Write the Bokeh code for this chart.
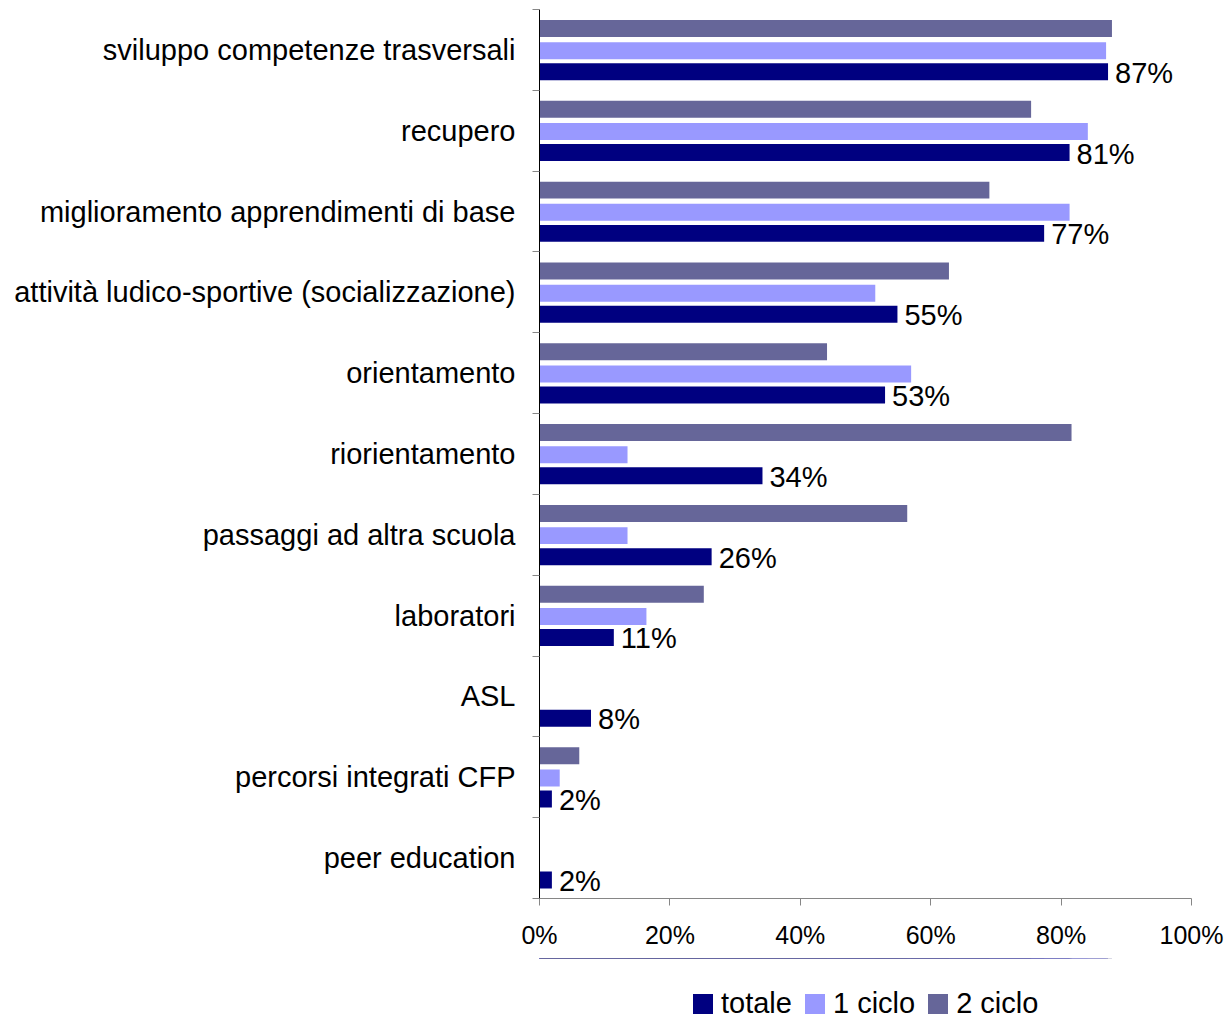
from bokeh.plotting import figure
from bokeh.layouts import column
from bokeh.models import (Range1d, LinearAxis, FixedTicker, CustomJSTickFormatter,
                          PrintfTickFormatter, ColumnDataSource, Legend, LegendItem)
from bokeh.transform import dodge
from bokeh.embed import file_html
from bokeh.resources import INLINE
from bokeh.core.properties import value

categories = [
    "sviluppo competenze trasversali",
    "recupero",
    "miglioramento apprendimenti di base",
    "attività ludico-sportive (socializzazione)",
    "orientamento",
    "riorientamento",
    "passaggi ad altra scuola",
    "laboratori",
    "ASL",
    "percorsi integrati CFP",
    "peer education",
]
totale = [87.2, 81.3, 77.4, 54.9, 53.0, 34.2, 26.4, 11.4, 7.9, 1.9, 1.9]
ciclo1 = [86.9, 84.1, 81.3, 51.5, 57.0, 13.5, 13.5, 16.4, 0.0, 3.1, 0.0]
ciclo2 = [87.8, 75.4, 69.0, 62.8, 44.1, 81.6, 56.4, 25.2, 0.0, 6.1, 0.0]
series_names = ["totale", "1 ciclo", "2 ciclo"]
x_ticks = [0, 20, 40, 60, 80, 100]

FONT = "Liberation Sans"
colors = {"totale": "#000080", "1 ciclo": "#9999FF", "2 ciclo": "#666699"}

n = len(categories)
# category slot centres, first category at the top
pos = [n - i - 0.5 for i in range(n)]

src = ColumnDataSource(dict(
    pos=pos, cat=categories, totale=totale, c1=ciclo1, c2=ciclo2,
    lab=[f"{round(v)}%" for v in totale],
))

p = figure(frame_width=652, frame_height=889, output_backend="svg", toolbar_location=None,
           y_range=Range1d(0, n), x_range=Range1d(0, 100),
           x_axis_location=None, y_axis_location=None,
           min_border_left=539, min_border_right=40, min_border_top=9, min_border_bottom=60)
p.outline_line_color = None
p.xgrid.visible = False
p.ygrid.visible = False
p.background_fill_color = "white"
p.border_fill_color = "white"

bh = 0.21
p.hbar(y=dodge("pos", 0.265), right="c2", left=0, height=bh,
       source=src, fill_color=colors["2 ciclo"], line_color=None)
p.hbar(y=dodge("pos", -0.01), right="c1", left=0, height=bh,
       source=src, fill_color=colors["1 ciclo"], line_color=None)
p.hbar(y=dodge("pos", -0.27), right="totale", left=0, height=bh,
       source=src, fill_color=colors["totale"], line_color=None)

p.text(x="totale", y=dodge("pos", -0.27), text="lab", source=src,
       x_offset=7, y_offset=1, text_font=value(FONT), text_font_size="29px",
       text_baseline="middle", text_align="left", text_color="black")

# x axis
xa = LinearAxis(ticker=FixedTicker(ticks=x_ticks), formatter=PrintfTickFormatter(format="%d%%"))
xa.axis_line_color = "#868686"
xa.major_tick_line_color = "#868686"
xa.major_tick_out = 7
xa.major_tick_in = 0
xa.minor_tick_line_color = None
xa.major_label_text_font = FONT
xa.major_label_text_font_size = "25px"
xa.major_label_text_color = "black"
xa.major_label_standoff = 15
p.add_layout(xa, "below")

# y axis line with separator ticks between categories
sa = LinearAxis(ticker=FixedTicker(ticks=list(range(n + 1))),
                formatter=CustomJSTickFormatter(code="return ''"))
sa.axis_line_color = "black"
sa.major_tick_line_color = "#868686"
sa.major_tick_out = 7
sa.major_tick_in = 0
sa.minor_tick_line_color = None
sa.major_label_standoff = 0
sa.major_label_text_font_size = "1px"
p.add_layout(sa, "left")

# category labels
ca = LinearAxis(ticker=FixedTicker(ticks=pos))
ca.major_label_overrides = {pv: c for pv, c in zip(pos, categories)}
ca.axis_line_color = None
ca.major_tick_line_color = None
ca.minor_tick_line_color = None
ca.major_tick_out = 0
ca.major_tick_in = 0
ca.major_label_standoff = 17
ca.major_label_text_font = FONT
ca.major_label_text_font_size = "29px"
ca.major_label_text_color = "black"
p.add_layout(ca, "left")

# legend strip below the chart (its bar renderers lie outside its visible y range)
lf = figure(frame_width=652, frame_height=62, output_backend="svg", toolbar_location=None,
            x_range=Range1d(0, 100), y_range=Range1d(-300, -200),
            x_axis_location=None, y_axis_location=None,
            min_border_left=539, min_border_right=40, min_border_top=0, min_border_bottom=0)
lf.outline_line_color = None
lf.xgrid.visible = False
lf.ygrid.visible = False
lf.background_fill_color = "white"
lf.border_fill_color = "white"
lt = lf.hbar(y="pos", right="totale", left=0, height=bh, source=src,
             fill_color=colors["totale"], line_color=None)
l1 = lf.hbar(y="pos", right="c1", left=0, height=bh, source=src,
             fill_color=colors["1 ciclo"], line_color=None)
l2 = lf.hbar(y="pos", right="c2", left=0, height=bh, source=src,
             fill_color=colors["2 ciclo"], line_color=None)

legend = Legend(items=[LegendItem(label=series_names[0], renderers=[lt]),
                       LegendItem(label=series_names[1], renderers=[l1]),
                       LegendItem(label=series_names[2], renderers=[l2])],
                location=(151, 0), orientation="horizontal")
legend.label_text_font = FONT
legend.label_text_font_size = "29px"
legend.label_text_color = "black"
legend.glyph_width = 25
legend.glyph_height = 25
legend.label_standoff = 6
legend.spacing = 10
legend.padding = 0
legend.margin = 0
legend.border_line_color = None
legend.background_fill_alpha = 0
lf.add_layout(legend)

open("out.html", "w").write(file_html(column(p, lf, spacing=0), INLINE))
